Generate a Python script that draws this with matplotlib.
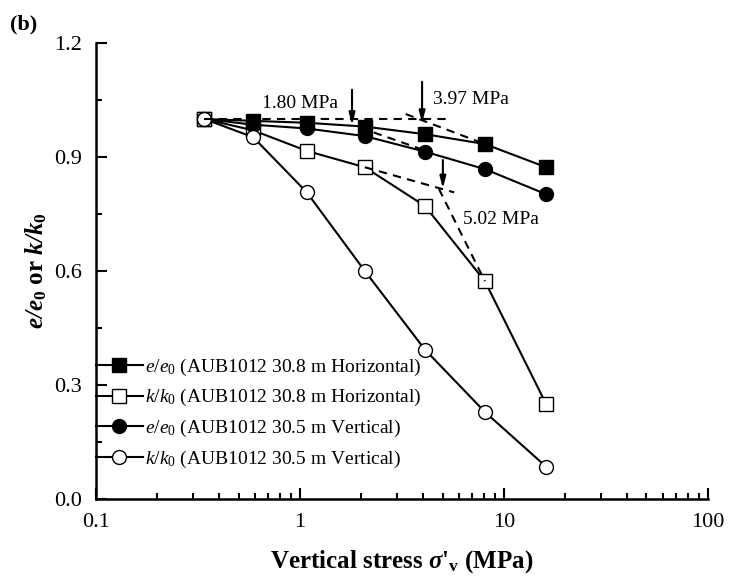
import numpy as np
import matplotlib
matplotlib.use('Agg')
import matplotlib.pyplot as plt

plt.rcParams['font.family'] = 'Liberation Serif'
plt.rcParams['mathtext.fontset'] = 'custom'
plt.rcParams['mathtext.rm'] = 'Liberation Serif'
plt.rcParams['mathtext.it'] = 'Liberation Serif:italic'
plt.rcParams['mathtext.bf'] = 'Liberation Serif:bold'
plt.rcParams['mathtext.bfit'] = 'Liberation Serif:bold:italic'

# loading steps (MPa)
stress = [0.34, 0.59, 1.08, 2.08, 4.1, 8.07, 16.1]

# normalised void ratio / permeability
e_hor = [1.0, 0.995, 0.99, 0.98, 0.96, 0.934, 0.873]
k_hor = [1.0, 0.97, 0.916, 0.873, 0.771, 0.573, 0.25]
e_ver = [1.0, 0.985, 0.975, 0.955, 0.914, 0.868, 0.802]
k_ver = [1.0, 0.952, 0.807, 0.6, 0.393, 0.229, 0.085]

labels = [r'$e/e_0$ (AUB1012 30.8 m Horizontal)',
          r'$k/k_0$ (AUB1012 30.8 m Horizontal)',
          r'$e/e_0$ (AUB1012 30.5 m Vertical)',
          r'$k/k_0$ (AUB1012 30.5 m Vertical)']

# yield stresses picked from the bilinear construction
yield_e_ver = 1.80
yield_e_hor = 3.97
yield_k_hor = 5.02


def ext_line(xs, ys, idx, x0, x1):
    # straight line in (log x, y) through the chosen points
    lx = np.log10(np.array(xs)[idx])
    yy = np.array(ys)[idx]
    p = np.polyfit(lx, yy, 1)
    xx = np.array([x0, x1])
    return xx, np.polyval(p, np.log10(xx))


fig = plt.figure(figsize=(7.29, 5.88), dpi=100)
ax = fig.add_axes([0.1317, 0.1514, 0.8393, 0.7755])

ms = 9.5
ax.plot(stress, e_hor, '-s', color='k', mfc='k', mec='k', lw=1.5, ms=ms, label=labels[0])
ax.plot(stress, k_hor, '-s', color='k', mfc='white', mec='k', lw=1.5, ms=ms, label=labels[1])
ax.plot(stress, e_ver, '-o', color='k', mfc='k', mec='k', lw=1.5, ms=ms + 0.5, label=labels[2])
ax.plot(stress, k_ver, '-o', color='k', mfc='white', mec='k', lw=1.5, ms=ms + 0.5, label=labels[3])

# construction lines
dash = dict(color='k', lw=1.5, ls=(0, (4, 3)))
ax.plot([stress[0], 5.3], [e_hor[0], e_hor[0]], **dash)
ax.plot(*ext_line(stress, e_hor, [5, 6], 3.3, 8.07), **dash)
ax.plot(*ext_line(stress, e_ver, [4, 5, 6], 2.3, 4.1), **dash)
ax.plot(*ext_line(stress, k_hor, [2, 3], 2.08, 5.7), **dash)
ax.plot(*ext_line(stress, k_hor, [5, 6], 4.8, 8.07), **dash)

arrow = dict(arrowstyle='-|>,head_length=0.7,head_width=0.18', color='k', lw=1.5,
             shrinkA=0, shrinkB=0)
ax.annotate('', xy=(yield_e_ver, 0.984), xytext=(yield_e_ver, 1.077), arrowprops=arrow)
ax.annotate('', xy=(yield_e_hor, 0.989), xytext=(yield_e_hor, 1.098), arrowprops=arrow)
ax.annotate('', xy=(yield_k_hor, 0.817), xytext=(yield_k_hor, 0.892), arrowprops=arrow)

ax.text(1.53, 1.042, '%.2f MPa' % yield_e_ver, fontsize=14, ha='right', va='center')
ax.text(4.49, 1.050, '%.2f MPa' % yield_e_hor, fontsize=14, ha='left', va='center')
ax.text(6.3, 0.735, '%.2f MPa' % yield_k_hor, fontsize=14, ha='left', va='center')

ax.set_xscale('log')
ax.set_xlim(0.1, 100)
ax.set_ylim(0, 1.2)
ax.set_xticks([0.1, 1, 10, 100])
ax.set_xticklabels(['0.1', '1', '10', '100'])
ax.set_yticks(np.arange(0, 1.21, 0.3))
ax.set_yticks(np.arange(0.15, 1.2, 0.3), minor=True)
ax.yaxis.set_major_formatter(matplotlib.ticker.FormatStrFormatter('%.1f'))

for s in ['top', 'right']:
    ax.spines[s].set_visible(False)
for s in ['left', 'bottom']:
    ax.spines[s].set_linewidth(1.8)
ax.tick_params(which='major', direction='in', length=8, width=1.5, labelsize=16)
ax.tick_params(axis='x', which='major', pad=10)
ax.tick_params(axis='y', which='major', pad=10)
ax.tick_params(which='minor', direction='in', length=4.5, width=1.5)

ax.set_xlabel(r"Vertical stress $\mathbfit{\sigma}$'$_\mathbf{v}$ (MPa)",
              fontsize=18, fontweight='bold', labelpad=12)
ax.set_ylabel(r'$\mathbfit{e/e}_\mathbf{0}$ or $\mathbfit{k/k}_\mathbf{0}$',
              fontsize=18, fontweight='bold', labelpad=4)

ax.legend(loc='center left', bbox_to_anchor=(0, 0.188), frameon=False, fontsize=14,
          numpoints=1, handlelength=2.4, handletextpad=0.1, labelspacing=0.5,
          borderpad=0, borderaxespad=0)

fig.text(0.014, 0.975, '(b)', fontsize=16, fontweight='bold', va='top')

fig.savefig('out.png', dpi=100)
